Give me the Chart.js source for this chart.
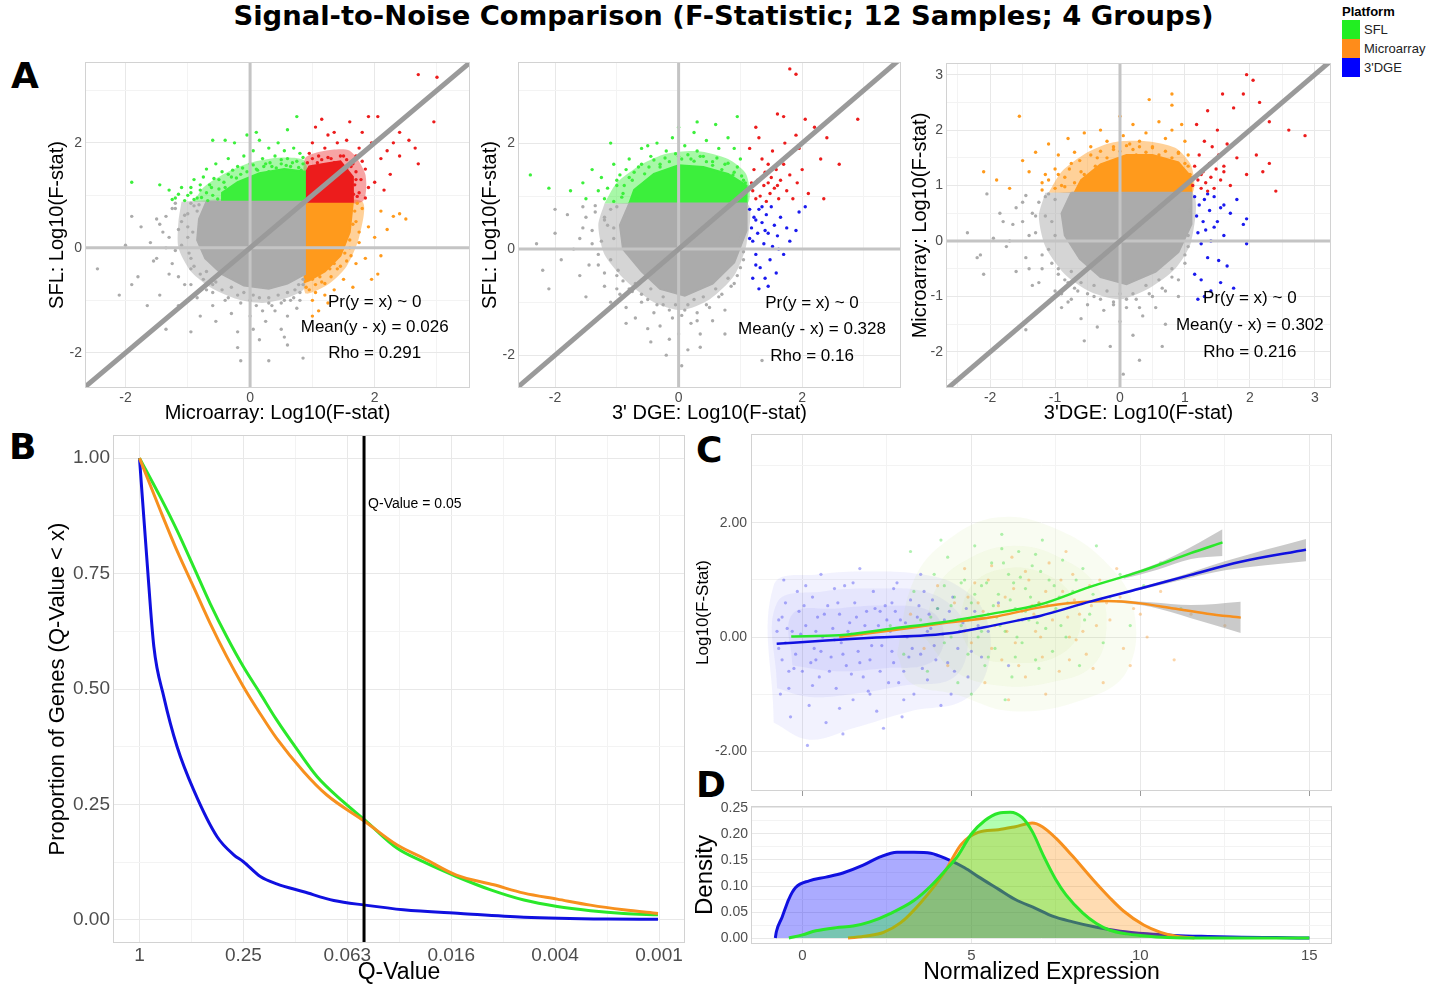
<!DOCTYPE html>
<html>
<head>
<meta charset="utf-8">
<script src="https://cdn.jsdelivr.net/npm/chart.js@4.4.1/dist/chart.umd.min.js"></script>
<style>
  body { margin: 0; background: #fff; }
  #page { position: relative; width: 1439px; height: 986px; overflow: hidden; font-family: 'Liberation Sans', Arial, sans-serif; }
  canvas { position: absolute; }
  .big { position: absolute; font-family: 'DejaVu Sans', sans-serif; font-weight: bold; line-height: 1; color: #000; }
  #title { left: 4px; top: 0; width: 1439px; text-align: center; font-size: 27.4px; line-height: 32px; }
  .letter { font-size: 36px; }
  #legend { position: absolute; left: 1342px; top: 4px; font-size: 13px; color: #222; }
  #legend b { display: block; height: 16px; color: #000; }
  .key { height: 19px; position: relative; }
  .key span { position: absolute; left: 0; top: 0; width: 18px; height: 19px; }
  .key em { position: absolute; left: 22px; top: 2px; font-style: normal; }
</style>
</head>
<body>
<div id="page">
  <div id="title" class="big">Signal-to-Noise Comparison (F-Statistic; 12 Samples; 4 Groups)</div>
  <div class="big letter" style="left:11px;top:58px">A</div>
  <div class="big letter" style="left:9px;top:429px">B</div>
  <div class="big letter" style="left:696px;top:432px">C</div>
  <div class="big letter" style="left:696px;top:767px">D</div>
  <div id="legend"><b>Platform</b></div>
  <canvas id="a1" width="457" height="383" style="left:25px;top:42px"></canvas>
  <canvas id="a2" width="438" height="383" style="left:475px;top:42px"></canvas>
  <canvas id="a3" width="438" height="382" style="left:905px;top:43px"></canvas>
  <canvas id="b" width="667" height="571" style="left:30px;top:415px"></canvas>
  <canvas id="c" width="656" height="391" style="left:688px;top:414px"></canvas>
  <canvas id="d" width="656" height="200" style="left:688px;top:786px"></canvas>
</div>
<script>
// platform legend
const platforms = ['SFL', 'Microarray', "3'DGE"];
const platformColors = ['#22ee22', '#ff8c1a', '#0000ff'];

// ---- panel A1: Microarray (x) vs SFL (y)
// dense cores (solid) and their fainter surrounding zones, then single points
const a1GrayCore = [[-0.7,0.88],[0.88,0.88],[0.88,-0.5],[0.6,-0.68],[0.3,-0.78],[-0.1,-0.72],[-0.45,-0.5],[-0.72,-0.2],[-0.85,0.15],[-0.82,0.55]];
const a1GrayHalo = [[-1.1,0.88],[0.88,0.88],[0.88,-0.75],[0.6,-0.95],[0.2,-1.05],[-0.2,-0.98],[-0.6,-0.78],[-0.95,-0.45],[-1.15,0.0],[-1.15,0.5]];
const a1Gray = [[-2.45,-0.4],[-2.0,0.05],[-1.9,-0.7],[-1.8,-0.55],[-1.75,0.4],[-1.6,0.1],[-1.55,-0.25],[-1.5,0.55],[-1.45,-0.9],[-1.4,0.3],[-1.3,-0.5],[-1.25,0.75],[-1.2,-0.05],[-1.15,-1.1],[-1.1,0.5],[-1.05,-0.7],[-1.0,0.2],[-0.95,-0.4],[-0.9,0.8],[-1.0,-1.0],[-0.85,-0.95],[-0.8,-1.3],[-0.7,-0.8],[-0.6,-1.1],[-0.55,-1.4],[-0.4,-1.0],[-0.3,-1.25],[-0.2,-1.6],[-0.15,-1.05],[0.0,-1.3],[0.1,-1.1],[0.15,-1.75],[0.25,-1.4],[0.3,-1.05],[0.4,-1.2],[0.5,-1.55],[0.55,-1.0],[0.6,-1.3],[0.7,-0.95],[0.75,-1.15],[0.8,-0.85],[0.3,-2.15],[-0.15,-2.15],[0.85,-2.1],[-0.2,-1.9],[0.55,-1.7],[-1.2,0.85],[-0.6,-0.7],[0.85,-0.7],[-1.65,-1.1],[-1.35,-1.55],[-0.95,-1.6],[0.05,-1.55],[0.6,-1.85],[-2.1,-0.9],[-1.9,0.6],[-1.0,0.65],[-0.95,-0.2],
  [-1.45,0.45],[-1.35,0.6],[-1.3,0.2],[-1.2,0.75],[-1.15,0.35],[-1.1,0.05],[-1.05,0.62],[-1.0,0.4],[-0.98,-0.1],[-0.95,0.85],[-0.92,0.3],[-0.9,-0.35],[-0.85,0.7],[-0.82,0.82],[-0.8,-0.5],[-0.75,-0.6],[-0.7,-0.45],[-0.6,-0.85],[-0.55,-0.65],[-0.45,-0.8],[-0.35,-0.95],[-0.3,-0.75],[-0.2,-0.9],[-0.1,-0.85],[0.0,-1.0],[0.05,-0.9],[0.15,-0.95],[0.2,-1.2],[0.3,-0.95],[0.35,-1.1],[0.45,-0.9],[0.5,-1.05],[0.6,-0.85],[0.65,-1.0],[0.72,-0.8],[0.8,-1.0],[0.85,-0.6],[0.78,-0.7],[-1.5,-0.2],[-1.35,0.0],[-1.25,-0.3],[-1.15,-0.55],[-0.95,-0.7]];
const a1GreenCore = [[-0.45,0.88],[0.88,0.88],[0.88,1.45],[0.55,1.5],[0.15,1.42],[-0.2,1.25],[-0.45,1.05]];
const a1GreenHalo = [[-0.9,0.88],[0.88,0.88],[0.88,1.65],[0.5,1.72],[0.0,1.62],[-0.4,1.42],[-0.75,1.15]];
const a1Green = [[-1.9,1.25],[-1.45,1.2],[-1.3,1.1],[-1.2,0.95],[-1.1,1.15],[-1.0,1.0],[-0.9,1.3],[-0.85,0.95],[-0.8,1.1],[-0.7,1.5],[-0.65,1.2],[-0.6,1.0],[-0.55,1.6],[-0.5,1.3],[-0.45,1.45],[-0.4,1.15],[-0.35,1.7],[-0.3,1.35],[-0.25,2.0],[-0.2,1.55],[-0.1,1.75],[-0.05,2.15],[0.0,1.6],[0.05,1.85],[0.1,1.5],[0.15,2.05],[0.2,1.7],[0.25,1.6],[0.3,1.9],[0.35,1.55],[0.4,1.75],[0.45,2.0],[0.5,1.6],[0.55,1.85],[0.6,1.7],[0.65,1.55],[0.7,1.9],[0.75,1.65],[0.8,1.8],[0.85,1.6],[0.75,2.5],[-0.6,2.05],[-0.4,2.05],[0.1,2.2],[-0.75,1.35],[-0.95,1.15],[0.6,2.25],[-0.15,1.4],[0.3,1.45],
  [-1.25,0.92],[-1.15,1.02],[-1.05,0.9],[-0.95,1.05],[-0.9,0.92],[-0.8,1.2],[-0.78,0.96],[-0.7,1.05],[-0.68,0.9],[-0.62,1.15],[-0.58,1.32],[-0.52,0.93],[-0.5,1.12],[-0.42,1.25],[-0.35,1.4],[-0.28,1.48],[-0.22,1.33],[-0.12,1.52],[-0.05,1.45],[0.05,1.58],[0.12,1.48],[0.22,1.55],[0.32,1.62],[0.42,1.52],[0.5,1.68],[0.58,1.57],[0.68,1.62],[0.78,1.53],[0.85,1.72],[0.82,1.48]];
const a1RedCore = [[0.88,0.88],[1.65,0.88],[1.65,1.35],[1.45,1.65],[1.2,1.6],[0.95,1.55],[0.88,1.4]];
const a1RedHalo = [[0.88,0.88],[1.8,0.88],[1.85,1.4],[1.6,1.85],[1.2,1.85],[0.88,1.7]];
const a1Red = [[0.95,1.8],[1.0,2.0],[1.05,2.3],[1.1,1.75],[1.2,1.9],[1.25,2.15],[1.3,1.7],[1.4,2.0],[1.5,1.75],[1.55,2.05],[1.6,2.4],[1.65,1.6],[1.7,1.3],[1.75,1.9],[1.8,2.2],[1.85,1.5],[1.9,1.15],[1.95,2.0],[2.0,1.25],[2.05,2.5],[2.1,1.7],[2.2,1.85],[2.25,1.4],[2.3,2.0],[2.4,1.75],[2.55,2.05],[2.65,1.9],[2.7,1.6],[2.7,3.3],[2.95,2.4],[3.0,3.25],[1.9,2.5],[1.35,2.2],[1.15,2.45],[1.75,1.05],[1.85,0.95],[2.15,1.1],[1.7,1.75],[1.55,1.5],[2.4,2.2],
  [0.92,1.62],[1.0,1.7],[1.08,1.62],[1.15,1.68],[1.25,1.72],[1.35,1.62],[1.45,1.75],[1.55,1.68],[1.62,1.55],[1.7,1.45],[1.68,1.2],[1.72,0.98],[1.78,1.3],[1.66,1.02],[1.8,1.65]];
const a1OrangeCore = [[0.88,0.88],[1.65,0.88],[1.6,0.3],[1.45,-0.15],[1.2,-0.45],[0.95,-0.62],[0.88,-0.65]];
const a1OrangeHalo = [[0.88,0.88],[1.8,0.88],[1.75,0.2],[1.55,-0.35],[1.25,-0.7],[0.88,-0.85]];
const a1Orange = [[0.95,-0.8],[1.0,-1.0],[1.05,-0.7],[1.1,-1.2],[1.15,-0.65],[1.2,-0.9],[1.3,-0.55],[1.35,-0.8],[1.4,-0.4],[1.5,-0.6],[1.55,-0.25],[1.6,0.0],[1.7,-0.3],[1.7,0.5],[1.75,0.1],[1.8,0.75],[1.85,-0.2],[1.9,0.4],[2.0,0.2],[2.05,-0.5],[2.1,0.7],[2.2,0.35],[2.3,0.6],[2.4,0.65],[2.5,0.55],[2.1,-0.15],[1.25,-1.05],[1.65,-0.75],[1.95,-0.6],[1.0,-1.3],
  [0.9,-0.75],[1.0,-0.6],[1.05,-0.85],[1.12,-0.55],[1.2,-0.68],[1.28,-0.4],[1.35,-0.3],[1.45,-0.35],[1.52,-0.1],[1.6,0.15],[1.65,0.45],[1.68,0.7],[1.72,0.85],[1.62,-0.15],[1.75,0.3]];
const a1Stats = ['Pr(y = x) ~ 0', 'Mean(y - x) = 0.026', 'Rho = 0.291'];

// ---- panel A2: 3' DGE (x) vs SFL (y)
const a2GrayCore = [[-0.8,0.86],[1.1,0.86],[1.1,0.35],[0.9,-0.25],[0.55,-0.65],[0.1,-0.88],[-0.3,-0.75],[-0.6,-0.42],[-0.9,0.0],[-0.95,0.45]];
const a2GrayHalo = [[-1.2,0.86],[1.1,0.86],[1.1,0.1],[0.9,-0.5],[0.5,-0.95],[0.05,-1.15],[-0.4,-1.0],[-0.85,-0.6],[-1.2,-0.1],[-1.3,0.45]];
const a2Gray = [[-2.3,0.1],[-2.2,-0.4],[-2.1,-0.75],[-2.0,0.3],[-1.9,-0.2],[-1.8,0.65],[-1.7,0.0],[-1.6,-0.5],[-1.55,0.4],[-1.5,-0.9],[-1.4,0.1],[-1.35,0.7],[-1.3,-0.3],[-1.2,-0.7],[-1.15,0.45],[-1.1,-1.0],[-1.05,0.2],[-1.0,-0.5],[-0.95,-0.85],[-0.85,-1.1],[-0.75,-0.8],[-0.7,-1.3],[-0.6,-1.0],[-0.5,-1.5],[-0.4,-1.2],[-0.3,-1.45],[-0.25,-1.05],[-0.15,-1.7],[-0.1,-1.3],[0.0,-1.6],[0.05,-2.2],[0.1,-1.15],[0.15,-1.9],[0.2,-1.4],[0.3,-1.2],[0.35,-1.6],[0.45,-1.05],[0.55,-1.35],[0.65,-0.9],[0.75,-1.15],[0.85,-0.7],[0.95,-0.5],[1.05,-0.2],[-0.45,-1.75],[0.35,-1.85],[-0.2,-2.0],[1.35,-2.1],[-1.55,0.8],[-2.0,0.75],[0.75,-1.6],[-0.85,-1.4],[-1.2,0.6],
  [-1.5,0.6],[-1.4,0.35],[-1.35,0.82],[-1.25,0.15],[-1.2,0.55],[-1.1,0.75],[-1.1,-0.2],[-1.05,0.4],[-1.0,0.8],[-0.98,-0.4],[-0.9,-0.6],[-0.85,0.65],[-0.8,-0.75],[-0.7,-0.65],[-0.6,-0.85],[-0.5,-0.95],[-0.45,-0.75],[-0.35,-1.05],[-0.25,-0.9],[-0.15,-1.15],[-0.05,-1.05],[0.05,-1.25],[0.15,-1.05],[0.25,-0.95],[0.3,-1.35],[0.4,-0.9],[0.5,-1.1],[0.6,-0.75],[0.7,-0.85],[0.8,-0.55],[0.9,-0.65],[1.0,-0.35],[1.05,-0.05],[1.08,0.5],[1.0,0.2],[-1.6,0.2],[-1.3,-0.1],[-1.2,-0.45],[-1.0,-0.75],[-1.45,-0.3]];
const a2GreenCore = [[-0.8,0.86],[1.1,0.86],[1.1,1.2],[0.8,1.42],[0.4,1.55],[0.0,1.58],[-0.4,1.42],[-0.72,1.12]];
const a2GreenHalo = [[-1.2,0.86],[1.1,0.86],[1.1,1.4],[0.8,1.7],[0.3,1.85],[-0.2,1.8],[-0.6,1.6],[-1.0,1.25]];
const a2Green = [[-2.4,1.4],[-2.1,1.15],[-1.75,1.1],[-1.55,1.25],[-1.5,0.95],[-1.4,1.5],[-1.3,1.1],[-1.25,1.35],[-1.1,2.0],[-1.05,1.6],[-1.0,1.2],[-0.95,1.4],[-0.9,1.05],[-0.8,1.7],[-0.75,1.3],[-0.65,1.55],[-0.6,1.9],[-0.55,1.25],[-0.45,1.75],[-0.35,2.0],[-0.3,1.55],[-0.2,1.85],[-0.1,2.1],[0.0,1.75],[0.0,2.3],[0.1,1.95],[0.2,1.7],[0.25,2.2],[0.3,1.85],[0.4,1.75],[0.45,2.05],[0.55,1.65],[0.6,2.35],[0.65,1.9],[0.75,1.6],[0.8,2.1],[0.9,1.45],[0.95,2.5],[1.0,1.7],[1.05,1.3],[0.9,1.9],[-0.5,1.95],[0.3,2.4],[-0.85,1.5],
  [-1.2,0.95],[-1.15,1.15],[-1.05,0.9],[-1.0,1.3],[-0.92,0.98],[-0.88,1.2],[-0.8,1.35],[-0.72,1.45],[-0.68,0.95],[-0.6,1.6],[-0.55,1.42],[-0.48,1.55],[-0.4,1.68],[-0.3,1.6],[-0.22,1.72],[-0.15,1.65],[-0.05,1.8],[0.05,1.7],[0.15,1.78],[0.25,1.66],[0.35,1.75],[0.45,1.65],[0.55,1.58],[0.62,1.72],[0.7,1.5],[0.8,1.62],[0.88,1.4],[0.95,1.55],[1.02,1.38],[1.08,1.25]];
const a2Red = [[1.15,1.9],[1.2,1.1],[1.22,1.5],[1.25,0.95],[1.28,1.3],[1.3,2.1],[1.32,1.0],[1.35,1.7],[1.38,1.2],[1.4,1.45],[1.42,0.9],[1.45,1.6],[1.48,1.05],[1.5,1.35],[1.52,1.85],[1.55,1.15],[1.58,1.5],[1.6,2.55],[1.62,0.95],[1.65,1.3],[1.7,1.6],[1.72,2.0],[1.75,1.1],[1.8,1.4],[1.85,0.95],[1.9,2.15],[1.92,1.25],[1.95,1.9],[2.0,1.5],[2.1,1.05],[2.2,2.3],[2.3,1.7],[2.35,0.95],[2.4,2.1],[2.6,1.6],[2.9,2.45],[1.8,3.4],[1.9,3.3],[1.7,2.5],[2.05,2.45],[1.25,2.3],[1.35,1.35],[1.6,1.2],[1.45,1.25],[1.18,1.25]];
const a2Blue = [[1.15,0.75],[1.18,0.4],[1.2,0.15],[1.22,0.6],[1.25,-0.1],[1.28,0.3],[1.3,0.75],[1.32,-0.35],[1.35,0.5],[1.38,0.1],[1.4,-0.55],[1.42,0.65],[1.45,0.3],[1.48,-0.2],[1.5,0.8],[1.52,0.05],[1.55,0.45],[1.58,-0.45],[1.6,0.25],[1.65,0.6],[1.7,-0.1],[1.75,0.4],[1.8,0.15],[1.9,0.35],[1.95,0.7],[2.05,0.8],[1.2,-0.55],[1.3,-0.75],[1.45,-0.7],[1.25,0.55],[1.35,0.8],[1.4,0.35],[1.15,0.2],[1.62,0.0],[1.25,-0.3]];
const a2Stats = ['Pr(y = x) ~ 0', 'Mean(y - x) = 0.328', 'Rho = 0.16'];

// ---- panel A3: 3'DGE (x) vs Microarray (y)
const a3GrayCore = [[-0.75,0.87],[1.1,0.87],[1.1,0.3],[0.9,-0.2],[0.55,-0.55],[0.1,-0.78],[-0.3,-0.65],[-0.62,-0.32],[-0.85,0.1],[-0.9,0.5]];
const a3GrayHalo = [[-1.15,0.87],[1.1,0.87],[1.1,0.0],[0.85,-0.5],[0.45,-0.85],[0.0,-1.05],[-0.45,-0.92],[-0.85,-0.6],[-1.15,-0.1],[-1.25,0.45]];
const a3Gray = [[-2.35,0.15],[-2.2,-0.3],[-2.1,-0.6],[-2.05,0.85],[-1.95,0.05],[-1.85,0.5],[-1.75,-0.1],[-1.65,0.3],[-1.6,-0.55],[-1.5,0.7],[-1.45,-0.3],[-1.4,0.1],[-1.35,-0.8],[-1.3,0.45],[-1.2,-0.5],[-1.15,0.8],[-1.1,-0.15],[-1.05,0.35],[-1.0,-0.9],[-0.95,-0.5],[-0.9,-1.2],[-0.8,-0.75],[-0.75,-1.05],[-0.65,-0.9],[-0.6,-1.4],[-0.5,-1.15],[-0.4,-1.0],[-0.35,-1.55],[-0.25,-1.25],[-0.15,-1.9],[-0.1,-1.1],[0.0,-1.45],[0.05,-2.4],[0.1,-1.2],[0.2,-1.7],[0.25,-1.05],[0.3,-2.15],[0.35,-1.35],[0.45,-0.95],[0.55,-1.2],[0.65,-0.85],[0.7,-1.5],[0.8,-0.65],[0.9,-1.0],[1.0,-0.4],[1.05,-0.1],[-1.45,-1.6],[-0.55,-1.8],[0.65,-1.9],[-2.15,-0.25],[-1.0,0.75],
  [-1.6,0.6],[-1.5,0.35],[-1.45,0.82],[-1.35,0.5],[-1.3,0.15],[-1.25,0.7],[-1.2,-0.25],[-1.15,0.45],[-1.1,0.85],[-1.05,-0.4],[-1.0,0.1],[-0.95,-0.6],[-0.85,-0.7],[-0.75,-0.55],[-0.7,-0.85],[-0.6,-0.75],[-0.5,-0.95],[-0.4,-0.8],[-0.3,-1.05],[-0.2,-0.9],[-0.1,-1.15],[0.0,-0.95],[0.1,-1.05],[0.2,-0.95],[0.3,-1.2],[0.4,-0.8],[0.5,-1.0],[0.6,-0.7],[0.7,-0.9],[0.8,-0.5],[0.9,-0.7],[1.0,-0.25],[1.05,0.1],[1.08,0.55],[-1.7,0.0],[-1.4,-0.5],[-1.25,-0.75],[-0.9,-0.95],[-1.8,0.35],[-0.8,-1.1]];
const a3OrangeCore = [[-0.7,0.87],[1.1,0.87],[1.1,1.15],[0.9,1.42],[0.5,1.55],[0.1,1.55],[-0.3,1.38],[-0.6,1.1]];
const a3OrangeHalo = [[-1.1,0.87],[1.1,0.87],[1.1,1.35],[0.85,1.68],[0.4,1.8],[-0.1,1.78],[-0.5,1.6],[-0.9,1.25]];
const a3Orange = [[-2.1,1.25],[-1.9,1.1],[-1.7,0.95],[-1.55,2.25],[-1.5,1.45],[-1.4,1.25],[-1.3,1.6],[-1.2,1.05],[-1.1,1.75],[-1.0,1.3],[-0.95,1.55],[-0.9,1.0],[-0.8,1.85],[-0.75,1.4],[-0.7,1.6],[-0.6,1.25],[-0.55,1.95],[-0.45,1.7],[-0.35,1.5],[-0.3,2.0],[-0.2,1.8],[-0.1,1.65],[0.0,2.25],[0.05,1.9],[0.15,1.75],[0.2,2.1],[0.3,1.8],[0.4,1.95],[0.45,2.55],[0.5,1.7],[0.6,2.15],[0.7,1.85],[0.8,2.65],[0.8,2.0],[0.9,1.6],[1.0,1.8],[1.05,1.35],[0.95,2.1],[-0.85,1.15],[0.25,1.55],[0.8,2.45],[-1.15,1.2],
  [-1.2,0.92],[-1.1,1.1],[-1.0,0.95],[-0.95,1.2],[-0.85,0.98],[-0.78,1.3],[-0.7,1.05],[-0.62,1.45],[-0.55,1.2],[-0.45,1.55],[-0.38,1.35],[-0.3,1.62],[-0.2,1.5],[-0.1,1.7],[0.0,1.62],[0.1,1.72],[0.2,1.65],[0.3,1.7],[0.4,1.6],[0.5,1.68],[0.6,1.55],[0.7,1.62],[0.8,1.5],[0.9,1.58],[1.0,1.4],[1.05,1.55],[1.08,1.2],[0.95,1.25]];
const a3Red = [[1.12,1.0],[1.15,1.35],[1.18,2.1],[1.2,1.1],[1.22,1.55],[1.25,0.95],[1.28,1.25],[1.3,1.8],[1.32,1.05],[1.35,2.35],[1.38,1.4],[1.4,1.15],[1.42,1.7],[1.45,0.95],[1.48,1.3],[1.5,2.0],[1.52,1.55],[1.55,1.1],[1.58,2.65],[1.6,1.35],[1.65,1.75],[1.7,1.0],[1.75,2.4],[1.8,1.5],[1.85,1.85],[1.9,2.65],[1.95,1.2],[2.0,2.0],[2.05,2.9],[2.1,1.55],[2.15,2.5],[2.2,1.25],[2.3,2.15],[2.4,0.9],[2.3,1.4],[2.6,2.0],[2.85,1.9],[1.95,3.0],[1.25,1.2],[1.35,0.9],[1.6,1.25]];
const a3Blue = [[1.15,0.8],[1.18,0.45],[1.2,0.15],[1.22,0.65],[1.25,-0.05],[1.28,0.35],[1.3,0.75],[1.32,0.2],[1.35,-0.3],[1.38,0.55],[1.4,0.0],[1.45,0.8],[1.5,0.35],[1.52,-0.35],[1.55,0.6],[1.6,0.1],[1.65,-0.45],[1.7,0.5],[1.8,0.75],[1.9,0.3],[1.95,-0.05],[1.95,0.4],[1.15,-0.6],[1.25,-0.7],[1.4,-0.9],[1.55,-0.75],[1.3,-1.0],[1.2,-1.05],[1.75,-0.85],[1.45,0.25],[1.35,0.85],[1.6,0.65]];
const a3Stats = ['Pr(y = x) ~ 0', 'Mean(y - x) = 0.302', 'Rho = 0.216'];

// ---- panel B: proportion of genes below each q-value (x = -log4 q)
const qTickLabels = ['1', '0.25', '0.063', '0.016', '0.004', '0.001'];
const qCutoff = 2.161; // q = 0.05
const bGreen = [[0,1.0],[0.2,0.916],[0.36,0.844],[0.52,0.765],[0.68,0.685],[0.84,0.613],[1.0,0.548],[1.16,0.491],[1.32,0.433],[1.52,0.368],[1.71,0.31],[1.96,0.256],[2.17,0.216],[2.48,0.155],[2.73,0.126],[3.05,0.094],[3.38,0.065],[3.7,0.043],[4.02,0.029],[4.34,0.02],[4.66,0.014],[4.99,0.011]];
const bOrange = [[0,1.0],[0.2,0.887],[0.36,0.8],[0.52,0.721],[0.68,0.642],[0.84,0.57],[1.0,0.505],[1.16,0.447],[1.32,0.393],[1.58,0.321],[1.8,0.271],[2.17,0.213],[2.48,0.162],[2.73,0.134],[3.05,0.097],[3.41,0.076],[3.7,0.058],[4.02,0.045],[4.34,0.032],[4.66,0.022],[4.99,0.014]];
const bBlue = [[0,1.0],[0.074,0.772],[0.138,0.592],[0.234,0.483],[0.362,0.375],[0.522,0.281],[0.747,0.18],[0.907,0.141],[1.0,0.126],[1.163,0.094],[1.32,0.078],[1.58,0.061],[1.87,0.042],[2.17,0.032],[2.54,0.022],[3.09,0.014],[3.7,0.006],[4.5,0.002],[4.99,0.0015]];

// ---- panel C: F-stat vs expression, with loess fits
const cBlue = [[-0.7,0.3],[-0.6,-0.4],[-0.5,0.6],[-0.4,-0.9],[-0.3,0.1],[-0.2,-0.3],[-0.1,0.45],[0.0,-0.6],[0.1,0.2],[0.2,-1.2],[0.3,0.7],[0.35,-0.2],[0.45,0.35],[0.5,-0.7],[0.6,0.0],[0.7,-1.5],[0.75,0.55],[0.85,-0.35],[0.9,0.15],[1.0,-0.9],[1.1,0.4],[1.15,-0.1],[1.25,0.9],[1.3,-0.5],[1.4,0.25],[1.5,-1.1],[1.55,0.6],[1.65,-0.25],[1.75,0.05],[1.8,-0.7],[1.9,0.45],[2.0,-0.4],[2.1,0.8],[2.2,-1.3],[2.25,0.2],[2.35,-0.15],[2.45,0.55],[2.55,-0.8],[2.6,0.1],[2.7,-0.45],[2.8,0.95],[2.9,0.3],[3.0,-0.6],[3.1,0.0],[3.2,0.65],[3.3,-1.0],[3.4,0.35],[3.5,-0.3],[3.6,0.8],[3.7,-0.75],[3.8,0.15],[3.9,-0.15],[4.0,0.5],[4.1,-1.2],[4.2,0.3],[4.3,-0.45],[4.45,0.7],[4.6,-0.2],[4.75,0.25],[4.9,-0.7],[5.1,0.45],[5.3,-0.35],[5.5,0.1],[5.8,0.6],[6.1,-0.5],[6.5,0.3],[-0.65,-1.0],[-0.55,1.0],[0.15,-1.9],[1.2,-1.7],[2.4,-1.6],[0.55,1.1],[1.7,1.2],[3.5,1.1],[-0.35,-1.4],[2.95,-1.4],[4.4,-1.0],[0.95,0.85],[1.95,-0.95],[3.15,-0.35],[0.4,-0.4],[1.45,0.05],[2.3,0.45],[3.75,0.4],[-0.15,0.8],[2.65,0.6],
  [-0.75,0.1],[-0.7,-0.2],[-0.6,0.35],[-0.5,-0.1],[-0.45,0.15],[-0.25,-0.55],[-0.05,0.05],[0.05,0.55],[0.25,-0.45],[0.4,0.1],[0.55,-0.25],[0.65,0.4],[0.8,-0.6],[0.95,-0.05],[1.05,0.6],[1.2,-0.3],[1.35,0.1],[1.45,-0.65],[1.6,0.35],[1.7,-0.45],[1.85,0.2],[2.05,-0.15],[2.15,0.5],[2.3,-0.6],[2.5,0.3],[2.65,-0.25],[2.75,0.45],[2.85,-0.8],[3.05,0.25],[3.25,-0.2],[3.45,0.55],[3.55,-0.55],[3.7,0.1],[3.85,0.65],[3.95,-0.4],[4.15,0.05],[4.35,0.45],[4.5,-0.6],[4.65,0.1],[4.85,0.5],[5.0,-0.25],[5.2,0.2],[0.3,-0.85],[1.1,-1.25],[2.0,-1.0],[3.0,-1.1],[0.1,0.9],[1.5,0.95],[2.7,0.85],[-0.4,-0.6]];
const cGreen = [[2.6,0.2],[3.0,-0.3],[3.3,0.8],[3.5,0.3],[3.7,-0.6],[3.9,1.1],[4.0,0.5],[4.2,-0.1],[4.3,1.4],[4.5,0.7],[4.6,-0.8],[4.7,0.2],[4.8,1.0],[4.9,-0.3],[5.0,0.6],[5.1,1.6],[5.2,0.0],[5.3,0.9],[5.4,-0.5],[5.5,0.4],[5.6,1.3],[5.7,-0.2],[5.8,0.75],[5.9,1.8],[6.0,0.1],[6.1,1.1],[6.2,-0.7],[6.3,0.5],[6.4,1.5],[6.5,-0.1],[6.6,0.85],[6.7,0.3],[6.8,1.25],[6.9,-0.4],[7.0,0.6],[7.1,1.7],[7.2,0.15],[7.3,1.0],[7.4,-0.25],[7.5,0.5],[7.7,1.35],[7.8,0.0],[8.0,0.8],[8.2,-0.5],[8.3,1.2],[8.5,0.4],[8.7,1.6],[8.9,-0.1],[9.1,0.7],[9.4,1.1],[9.7,0.2],[10.1,0.9],[10.6,1.3],[11.2,0.5],[5.0,-1.0],[6.0,-1.1],[4.4,0.0],[5.75,0.35],[6.25,0.95],[7.6,0.7],[3.2,1.5],[4.1,1.7],
  [4.4,0.55],[4.7,0.95],[4.9,0.3],[5.1,0.75],[5.3,0.1],[5.45,0.95],[5.65,0.55],[5.85,0.2],[5.95,1.3],[6.15,0.65],[6.35,0.0],[6.45,1.05],[6.6,0.45],[6.75,0.7],[6.95,0.25],[7.05,1.15],[7.25,0.55],[7.45,0.9],[7.65,0.2],[7.85,0.6],[8.1,1.0],[8.35,0.3],[8.6,0.75],[5.5,-0.35],[6.3,-0.35],[7.0,-0.55],[4.2,0.9],[3.8,0.35],[5.9,1.55],[6.9,1.45]];
const cOrange = [[3.2,0.4],[3.6,-0.2],[4.0,0.9],[4.3,-0.5],[4.6,0.3],[4.8,1.2],[5.0,-0.1],[5.2,0.6],[5.4,-0.8],[5.5,1.0],[5.7,0.2],[5.9,-0.4],[6.0,0.7],[6.2,1.4],[6.3,-0.1],[6.5,0.45],[6.6,-0.7],[6.7,1.0],[6.9,0.1],[7.0,0.6],[7.1,-0.35],[7.3,1.3],[7.4,0.3],[7.6,-0.6],[7.7,0.8],[7.9,0.0],[8.0,1.1],[8.2,0.4],[8.4,-0.3],[8.5,0.9],[8.7,0.2],[8.9,-0.8],[9.0,0.6],[9.3,1.2],[9.5,-0.2],[9.8,0.5],[10.2,0.0],[10.6,0.8],[11.0,-0.4],[11.5,0.4],[12.5,0.2],[6.1,-1.1],[7.2,-1.0],[5.3,0.35],[6.8,0.55],[8.1,-0.05],[4.9,0.7],[7.8,1.5],
  [4.5,0.6],[4.8,0.1],[5.1,0.95],[5.35,0.45],[5.6,-0.2],[5.8,0.55],[6.05,0.1],[6.25,0.85],[6.4,0.3],[6.6,1.15],[6.85,0.4],[7.05,0.0],[7.2,0.8],[7.45,0.45],[7.65,1.0],[7.85,0.35],[8.05,0.65],[8.3,0.1],[8.55,0.55],[8.8,1.0],[9.1,0.3],[9.4,0.7],[9.7,-0.5],[6.4,-0.5],[7.9,-0.4],[5.6,1.25],[8.6,-0.55],[10.0,0.4]];
// outlines of the faint point clouds, outer to inner
const cBlueCloud = [
  [[-0.85,-1.5],[-0.85,0.9],[0.5,1.1],[2.0,1.15],[3.5,1.1],[4.6,0.9],[5.4,0.4],[5.5,-0.5],[4.8,-1.1],[3.2,-1.3],[1.5,-1.6],[0.2,-1.8]],
  [[-0.75,-0.9],[-0.75,0.6],[0.6,0.8],[2.2,0.85],[3.6,0.8],[4.5,0.5],[4.9,0.0],[4.5,-0.7],[3.0,-0.85],[1.5,-1.0],[0.2,-1.05]],
  [[-0.3,-0.5],[-0.3,0.4],[1.0,0.5],[2.5,0.55],[3.8,0.45],[4.2,0.0],[3.8,-0.45],[2.4,-0.55],[1.0,-0.6]]
];
const cGreenCloud = [
  [[2.8,-0.3],[3.3,1.0],[4.3,1.7],[5.8,2.1],[7.5,1.9],[9.0,1.3],[9.8,0.5],[9.6,-0.6],[8.3,-1.1],[6.2,-1.3],[4.5,-1.0],[3.2,-0.8]],
  [[3.6,0.0],[4.0,0.9],[5.0,1.4],[6.3,1.6],[7.6,1.4],[8.7,0.9],[9.0,0.2],[8.6,-0.5],[7.3,-0.8],[5.8,-0.85],[4.5,-0.6]],
  [[4.6,0.2],[5.0,0.9],[6.0,1.2],[7.2,1.1],[8.0,0.7],[8.2,0.1],[7.5,-0.35],[6.2,-0.45],[5.1,-0.3]]
];
const cGreenLine = [[-0.33,0.01],[1.09,0.03],[2.67,0.15],[4.15,0.26],[5.63,0.41],[7.03,0.57],[8.51,0.88],[10.0,1.15],[11.49,1.47],[12.43,1.66]];
const cOrangeLine = [[1.09,0.0],[2.67,0.12],[4.15,0.24],[5.63,0.35],[7.03,0.52],[8.02,0.6],[9.01,0.63],[10.0,0.59],[10.99,0.5],[11.98,0.41],[12.97,0.34]];
const cBlueLine = [[-0.76,-0.12],[0.7,-0.06],[2.18,-0.01],[3.66,0.03],[4.64,0.09],[5.63,0.2],[6.62,0.32],[7.03,0.37],[8.51,0.62],[10.0,0.85],[11.49,1.09],[12.97,1.32],[14.9,1.53]];
const cGreenBandHi = [[9.5,1.08],[10.5,1.29],[11.5,1.58],[12.43,1.89]];
const cGreenBandLo = [[9.5,1.02],[10.5,1.18],[11.5,1.37],[12.43,1.42]];
const cBlueBandHi = [[9.5,0.8],[11.0,1.04],[12.5,1.33],[14.9,1.72]];
const cBlueBandLo = [[9.5,0.76],[11.0,0.97],[12.5,1.17],[14.9,1.33]];
const cOrangeBandHi = [[9.3,0.65],[10.3,0.61],[11.5,0.56],[12.97,0.62]];
const cOrangeBandLo = [[9.3,0.61],[10.3,0.53],[11.5,0.33],[12.97,0.07]];

// ---- panel D: density of normalized expression
const dBlue = [[-0.8,0.0],[-0.77,0.012],[-0.6,0.04],[-0.4,0.075],[-0.2,0.097],[0.2,0.11],[0.7,0.117],[1.2,0.125],[1.8,0.14],[2.3,0.156],[2.8,0.165],[3.3,0.165],[3.8,0.163],[4.3,0.151],[4.8,0.135],[5.2,0.118],[5.8,0.094],[6.3,0.074],[6.9,0.057],[7.4,0.042],[8.0,0.031],[8.6,0.022],[9.4,0.013],[10.2,0.008],[11.0,0.005],[12.0,0.003],[13.0,0.0015],[14.0,0.0008],[15.0,0.0]];
const dGreen = [[-0.4,0.0],[0.0,0.006],[0.4,0.014],[1.0,0.02],[1.5,0.023],[2.0,0.031],[2.6,0.047],[3.3,0.072],[3.8,0.1],[4.2,0.128],[4.6,0.158],[5.0,0.2],[5.4,0.226],[5.8,0.24],[6.15,0.242],[6.5,0.232],[6.8,0.205],[7.15,0.156],[7.5,0.112],[7.8,0.083],[8.3,0.048],[8.7,0.028],[9.1,0.015],[9.6,0.008],[10.0,0.005],[10.8,0.001],[12.0,0.0],[15.0,0.0]];
const dOrange = [[1.35,0.0],[1.9,0.004],[2.4,0.011],[2.9,0.029],[3.5,0.068],[4.2,0.126],[4.7,0.18],[5.2,0.203],[5.8,0.208],[6.3,0.214],[6.8,0.221],[7.1,0.214],[7.5,0.192],[8.0,0.157],[8.6,0.112],[9.1,0.077],[9.5,0.052],[10.1,0.025],[10.6,0.011],[11.1,0.003],[11.6,0.0]];

// legend
const legend = document.getElementById('legend');
platforms.forEach((name, i) => {
  const row = document.createElement('div');
  row.className = 'key';
  row.innerHTML = '<span style="background:' + platformColors[i] + '"></span><em>' + name + '</em>';
  legend.appendChild(row);
});

Chart.defaults.font.family = "'Liberation Sans', Arial, sans-serif";
Chart.defaults.color = '#4d4d4d';

const FONT = "'Liberation Sans', Arial, sans-serif";
const GREEN = '#2ae82a', ORANGE = '#f7901e', BLUE = '#1010e0';
const ptGray = '#ababab', ptGreen = '#3cef3c', ptRed = '#ec1c1c', ptOrange = '#ff9a1c', ptBlue = '#1a1aee';
const haze = {'#ababab': 'rgba(171,171,171,0.5)', '#3cef3c': 'rgba(60,239,60,0.45)',
              '#ec1c1c': 'rgba(236,28,28,0.4)', '#ff9a1c': 'rgba(255,154,28,0.45)'};

const pts = a => a.map(p => ({x: p[0], y: p[1]}));
const isMult = (v, m) => Math.abs(v / m - Math.round(v / m)) < 1e-6;

function dots(arr, color, r, order) {
  return {type: 'scatter', data: pts(arr), backgroundColor: color, borderWidth: 0, pointRadius: r, order: order};
}
function blob(arr, color, order, tension) {
  return {type: 'line', showLine: true, data: pts(arr.concat([arr[0]])), borderColor: tension ? 'rgba(0,0,0,0)' : color,
          backgroundColor: color, borderWidth: tension ? 0 : 2, pointRadius: 0, fill: 'shape', tension: tension || 0, order: order};
}
function rule(arr, color, w, order) {
  return {type: 'line', showLine: true, data: pts(arr), borderColor: color, borderWidth: w, pointRadius: 0, fill: false, tension: 0, order: order};
}
function curve(arr, color, w, order, fill, fillColor) {
  return {type: 'line', showLine: true, data: pts(arr), borderColor: color, borderWidth: w, pointRadius: 0,
          fill: fill || false, backgroundColor: fillColor || color, cubicInterpolationMode: 'monotone', order: order};
}

function axis(o) {
  const major = o.major || (v => o.label(v) !== '');
  return {
    type: 'linear', min: o.min, max: o.max,
    afterFit: s => { if (o.w) s.width = o.w; if (o.h) s.height = o.h; },
    border: {display: false},
    grid: {
      color: c => (c.tick && major(c.tick.value)) ? '#e8e8e8' : '#f3f3f3',
      drawTicks: !!o.tl, tickLength: o.tl || 0,
      tickColor: c => (c.tick && major(c.tick.value)) ? '#9a9a9a' : 'rgba(0,0,0,0)'
    },
    ticks: {stepSize: o.step, includeBounds: false, autoSkip: false, maxRotation: 0, padding: o.pad,
            color: '#4d4d4d', font: {size: o.fs}, callback: v => o.label(v)},
    title: o.title ? {display: true, text: o.title, color: '#000', font: {size: o.ts}, padding: o.tp} : {display: false}
  };
}

// panel border + text notes placed in data units
function frame(notes) {
  return {
    id: 'frame',
    afterDatasetsDraw(chart) {
      const {ctx, chartArea: a, scales} = chart;
      ctx.save();
      ctx.strokeStyle = '#d2d2d2';
      ctx.lineWidth = 1;
      ctx.strokeRect(a.left + 0.5, a.top + 0.5, a.width - 1, a.height - 1);
      notes.forEach(n => {
        ctx.font = n.font;
        ctx.fillStyle = '#000';
        ctx.textAlign = n.align || 'center';
        ctx.textBaseline = 'middle';
        ctx.fillText(n.text, scales.x.getPixelForValue(n.x), scales.y.getPixelForValue(n.y));
      });
      ctx.restore();
    }
  };
}

function make(id, datasets, scales, notes) {
  return new Chart(document.getElementById(id), {
    type: 'scatter',
    data: {datasets: datasets},
    options: {
      responsive: false, animation: false, devicePixelRatio: 1, events: [],
      layout: {padding: {top: 20, right: 12, bottom: 0, left: 0}},
      plugins: {legend: {display: false}, tooltip: {enabled: false}},
      scales: scales
    },
    plugins: [frame(notes)]
  });
}

function statNotes(texts, x, ys) {
  return texts.map((t, i) => ({text: t, x: x, y: ys[i], font: '17px ' + FONT}));
}

function scatterPanel(id, p) {
  const ds = [
    rule([[-3, -3], [4, 4]], '#9a9a9a', 5, 0),
    rule([[-3, 0], [4, 0]], '#c4c4c4', 3, 1),
    rule([[0, -3], [0, 4]], '#c4c4c4', 3, 1)
  ];
  p.dots.forEach(d => ds.push(dots(d[0], d[1], 1.7, 2)));
  p.blobs.forEach(b => ds.push(blob(b[0], b[1], 3)));
  p.halos.forEach(h => ds.push(blob(h[0], haze[h[1]], 4, 0.25)));
  const even = v => isMult(v, p.every) ? String(Math.round(v)) : '';
  make(id, ds, {
    x: axis({min: p.x[0], max: p.x[1], step: p.every / 2, label: even, h: 37, pad: 2, fs: 14,
             title: p.xTitle, ts: 20, tp: {top: 0, bottom: 0}}),
    y: axis({min: p.y[0], max: p.y[1], step: p.every / 2, label: even, w: p.yw, pad: 3, fs: 14,
             title: p.yTitle, ts: 20, tp: {top: p.ytp, bottom: 0}})
  }, statNotes(p.stats, p.nx, p.ny));
}

scatterPanel('a1', {
  x: [-2.65, 3.53], y: [-2.67, 3.54], every: 2, yw: 60, ytp: 20,
  xTitle: 'Microarray: Log10(F-stat)', yTitle: 'SFL: Log10(F-stat)',
  dots: [[a1Gray, ptGray], [a1Green, ptGreen], [a1Red, ptRed], [a1Orange, ptOrange]],
  blobs: [[a1GrayCore, ptGray], [a1GreenCore, ptGreen], [a1RedCore, ptRed], [a1OrangeCore, ptOrange]],
  halos: [[a1GrayHalo, ptGray], [a1GreenHalo, ptGreen], [a1RedHalo, ptRed], [a1OrangeHalo, ptOrange]],
  stats: a1Stats, nx: 2.0, ny: [-1.03, -1.52, -2.0]
});
scatterPanel('a2', {
  x: [-2.6, 3.6], y: [-2.62, 3.53], every: 2, yw: 43, ytp: 3,
  xTitle: "3' DGE: Log10(F-stat)", yTitle: 'SFL: Log10(F-stat)',
  dots: [[a2Gray, ptGray], [a2Green, ptGreen], [a2Red, ptRed], [a2Blue, ptBlue]],
  blobs: [[a2GrayCore, ptGray], [a2GreenCore, ptGreen]],
  halos: [[a2GrayHalo, ptGray], [a2GreenHalo, ptGreen]],
  stats: a2Stats, nx: 2.16, ny: [-1.02, -1.51, -2.02]
});
scatterPanel('a3', {
  x: [-2.68, 3.25], y: [-2.65, 3.21], every: 1, yw: 41, ytp: 3,
  xTitle: "3'DGE: Log10(F-stat)", yTitle: 'Microarray: Log10(F-stat)',
  dots: [[a3Gray, ptGray], [a3Orange, ptOrange], [a3Red, ptRed], [a3Blue, ptBlue]],
  blobs: [[a3GrayCore, ptGray], [a3OrangeCore, ptOrange]],
  halos: [[a3GrayHalo, ptGray], [a3OrangeHalo, ptOrange]],
  stats: a3Stats, nx: 2.0, ny: [-1.03, -1.52, -2.0]
});

// panel B
make('b', [
  rule([[qCutoff, -0.1], [qCutoff, 1.1]], '#000', 3, 0),
  curve(bOrange, ORANGE, 3, 1),
  curve(bGreen, GREEN, 3, 2),
  curve(bBlue, BLUE, 3, 3)
], {
  x: axis({min: -0.255, max: 5.25, step: 0.5, h: 43, pad: 1, fs: 19,
           label: v => isMult(v, 1) && v >= 0 && v <= 5 ? qTickLabels[Math.round(v)] : '',
           title: 'Q-Value', ts: 23, tp: {top: 0, bottom: 0}}),
  y: axis({min: -0.05, max: 1.05, step: 0.125, w: 83, pad: 3, fs: 19,
           label: v => isMult(v, 0.25) ? v.toFixed(2) : '',
           title: 'Proportion of Genes (Q-Value < x)', ts: 22, tp: {top: 15, bottom: 0}})
}, [{text: 'Q-Value = 0.05', x: 2.2, y: 0.9, align: 'left', font: '14px ' + FONT}]);

// panel C
const cDatasets = [
  curve(cGreenLine, GREEN, 2.5, 0),
  curve(cBlueLine, BLUE, 2.5, 0),
  curve(cOrangeLine, ORANGE, 2.5, 0),
  curve(cGreenBandHi, 'rgba(0,0,0,0)', 0, 1),
  curve(cGreenBandLo, 'rgba(0,0,0,0)', 0, 1, '-1', 'rgba(150,150,150,0.5)'),
  curve(cBlueBandHi, 'rgba(0,0,0,0)', 0, 1),
  curve(cBlueBandLo, 'rgba(0,0,0,0)', 0, 1, '-1', 'rgba(150,150,150,0.5)'),
  curve(cOrangeBandHi, 'rgba(0,0,0,0)', 0, 1),
  curve(cOrangeBandLo, 'rgba(0,0,0,0)', 0, 1, '-1', 'rgba(150,150,150,0.5)'),
  dots(cOrange, 'rgba(245,150,40,0.4)', 1.6, 2),
  dots(cGreen, 'rgba(60,220,60,0.4)', 1.6, 2),
  dots(cBlue, 'rgba(50,50,240,0.38)', 1.6, 2)
];
cGreenCloud.forEach(poly => cDatasets.push(blob(poly, 'rgba(185,220,110,0.09)', 3, 0.4)));
cBlueCloud.forEach(poly => cDatasets.push(blob(poly, 'rgba(90,90,240,0.08)', 4, 0.4)));
make('c', cDatasets, {
  x: axis({min: -1.52, max: 15.67, step: 2.5, h: 14, tl: 5, pad: 0, fs: 14,
           label: () => '', major: v => isMult(v, 5)}),
  y: axis({min: -2.7, max: 3.56, step: 1, w: 63, pad: 4, fs: 14,
           label: v => isMult(v, 2) ? v.toFixed(2) : '',
           title: 'Log10(F-Stat)', ts: 17, tp: {top: 5, bottom: 0}})
}, []);

// panel D
make('d', [
  curve(dGreen, GREEN, 3, 0, 'origin', 'rgba(0,255,0,0.3)'),
  curve(dOrange, ORANGE, 3, 1, 'origin', 'rgba(255,140,0,0.3)'),
  curve(dBlue, BLUE, 3, 2, 'origin', 'rgba(0,0,255,0.33)')
], {
  x: axis({min: -1.52, max: 15.67, step: 2.5, h: 42, pad: 3, fs: 15,
           label: v => isMult(v, 5) ? String(Math.round(v)) : '',
           title: 'Normalized Expression', ts: 23, tp: {top: 0, bottom: 0}}),
  y: axis({min: -0.0115, max: 0.2538, step: 0.025, w: 63, pad: 3, fs: 14,
           label: v => isMult(v, 0.05) ? v.toFixed(2) : '',
           title: 'Density', ts: 24, tp: {top: 3, bottom: 0}})
}, []);
</script>
</body>
</html>
